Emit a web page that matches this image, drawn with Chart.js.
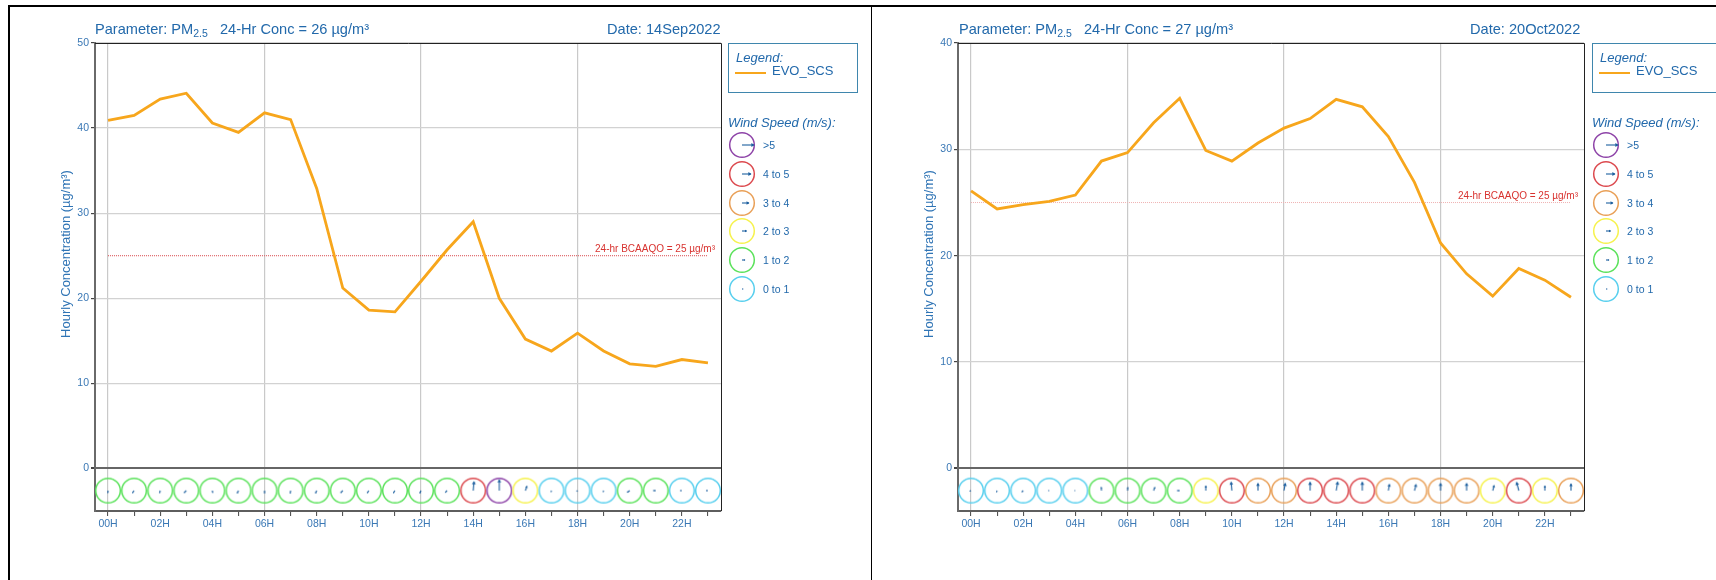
<!DOCTYPE html>
<html>
<head>
<meta charset="utf-8">
<title>PM2.5 hourly concentration</title>
<script src="https://cdn.jsdelivr.net/npm/chart.js@4/dist/chart.umd.min.js"></script>
<style>
	html,body{margin:0;padding:0;background:#fff;}
	body{width:1716px;height:580px;overflow:hidden;position:relative;font-family:"Liberation Sans",Arial,sans-serif;color:#2269ab;}
	canvas{position:absolute;top:0;}
	.abs{position:absolute;white-space:nowrap;}
	.rule{position:absolute;background:#000;}
	.head{font-size:14.6px;line-height:16px;top:21px;}
	.head sub{font-size:10.5px;line-height:0;vertical-align:-3px;}
	.box{position:absolute;top:43px;width:128px;height:48px;border:1.5px solid #3f86ad;}
	.small{font-size:10.5px;line-height:12px;}
</style>
</head>
<body>
<div class="rule" style="left:8px;top:5px;width:1708px;height:2px;"></div>
<div class="rule" style="left:8px;top:5px;width:2px;height:575px;"></div>
<div class="rule" style="left:871px;top:5px;width:1px;height:575px;"></div>
<canvas id="chart1" width="860" height="580" style="left:0"></canvas>
<canvas id="chart2" width="860" height="580" style="left:863px"></canvas>
<script>
const hours=['00H','01H','02H','03H','04H','05H','06H','07H','08H','09H','10H','11H','12H','13H','14H','15H','16H','17H','18H','19H','20H','21H','22H','23H'];

const conc1=[40.9,41.5,43.4,44.1,40.6,39.5,41.8,41.0,32.9,21.2,18.6,18.4,22.0,25.7,29.0,20.0,15.2,13.8,15.9,13.8,12.3,12.0,12.8,12.4];
const conc2=[26.1,24.4,24.8,25.1,25.7,28.9,29.7,32.5,34.8,29.9,28.9,30.6,32.0,32.9,34.7,34.0,31.2,26.9,21.2,18.3,16.2,18.8,17.7,16.1];

// wind speed m/s and heading of the arrow in degrees, 0 is up, clockwise
const speed1=[1.1,1.4,1.2,1.5,1.1,1.4,1.3,1.4,1.4,1.5,1.4,1.4,1.4,1.3,4.5,5.4,2.4,0.7,0.6,0.7,1.5,1.2,0.8,0.9];
const dir1=[185,215,195,225,170,205,180,190,205,225,215,215,205,225,5,0,20,200,230,200,235,270,270,270];
const speed2=[0.7,0.8,0.9,0.5,0.4,1.7,1.6,1.8,1.2,2.4,4.3,3.6,3.7,4.2,4.4,4.2,3.2,3.2,3.6,3.6,2.7,4.3,2.4,3.4];
const dir2=[250,200,225,270,270,355,5,20,270,0,355,0,10,0,10,0,10,15,0,0,15,345,0,0];

const yTicks1=[0,10,20,30,40,50];
const yTicks2=[0,10,20,30,40];
const windLabels=['>5','4 to 5','3 to 4','2 to 3','1 to 2','0 to 1'];
const windLegendSpeed=[6,4.5,3.5,2.3,1.5,0.6];
const limitValue=25;

function windColor(s){
	if(s>5) return '#8e44a8';
	if(s>4) return '#dc4a4f';
	if(s>3) return '#e9a058';
	if(s>2) return '#f6f24e';
	if(s>1) return '#5be25b';
	return '#58cfee';
}

function windIcon(s,dir){
	var c=document.createElement('canvas');
	c.width=30;
	c.height=30;
	var g=c.getContext('2d');
	g.translate(15,15);
	g.beginPath();
	g.arc(0,0,12.3,0,Math.PI*2);
	g.strokeStyle=windColor(s);
	g.lineWidth=1.5;
	g.stroke();
	g.rotate(dir*Math.PI/180);
	var len=s*2;
	g.strokeStyle='#1c5f9f';
	g.fillStyle='#1c5f9f';
	g.lineWidth=1.1;
	g.beginPath();
	g.moveTo(0,0);
	g.lineTo(0,-len);
	g.stroke();
	var head=Math.min(len*0.35,2.6);
	g.beginPath();
	g.moveTo(0,-len-0.5);
	g.lineTo(-head*0.75,-len+head);
	g.lineTo(head*0.75,-len+head);
	g.closePath();
	g.fill();
	return c;
}

// frame round the plot, the limit label and the y title
const framePlugin={
	id:'frame',
	afterDraw(chart,args,opts){
		var a=chart.chartArea, ctx=chart.ctx;
		ctx.save();
		ctx.strokeStyle='#222';
		ctx.lineWidth=1;
		ctx.beginPath();
		ctx.moveTo(a.left,a.top+0.5);
		ctx.lineTo(a.right+0.5,a.top+0.5);
		ctx.lineTo(a.right+0.5,a.bottom);
		ctx.stroke();
		ctx.fillStyle='#d8322f';
		ctx.font='10px "Liberation Sans"';
		ctx.textAlign='right';
		ctx.textBaseline='bottom';
		ctx.fillText('24-hr BCAAQO = 25 µg/m³',a.right-6,chart.scales.y.getPixelForValue(limitValue)-1);
		ctx.translate(66,254);
		ctx.rotate(-Math.PI/2);
		ctx.fillStyle='#2f74b5';
		ctx.font='13px "Liberation Sans"';
		ctx.textAlign='center';
		ctx.textBaseline='middle';
		ctx.fillText('Hourly Concentration (µg/m³)',0,0);
		ctx.restore();
	}
};

function makePanel(id,conc,speeds,dirs,yTicks,yMin,yMax,windLevel,limitColor){
	var ctx=document.getElementById(id).getContext('2d');
	return new Chart(ctx,{
		type:'line',
		data:{
			labels:hours,
			datasets:[{
				label:'EVO_SCS',
				data:conc,
				fill:false,
				borderColor:'#f7a61c',
				borderWidth:2.8,
				pointRadius:0,
				tension:0
			},
			{
				label:'BCAAQO',
				data:hours.map(function(){return limitValue;}),
				fill:false,
				borderColor:limitColor,
				borderWidth:1,
				borderDash:[1,1],
				pointRadius:0
			},
			{
				label:'Wind',
				data:hours.map(function(){return windLevel;}),
				showLine:false,
				clip:false,
				pointRadius:12,
				pointStyle:function(c){
					return windIcon(speeds[c.dataIndex],dirs[c.dataIndex]);
				}
			}]
		},
		plugins:[framePlugin],
		options:{
			responsive:false,
			devicePixelRatio:1,
			animation:false,
			events:[],
			layout:{padding:{left:58,top:43,right:139,bottom:25}},
			plugins:{legend:{display:false},tooltip:{enabled:false},title:{display:false}},
			scales:{
				x:{
					type:'category',
					offset:true,
					afterFit:function(s){s.height=44;},
					border:{color:'#5e5e5e',width:2},
					grid:{
						color:function(c){return c.index%6==0?'#c9c9c9':'rgba(0,0,0,0)';},
						lineWidth:1.2,
						tickColor:'#444',
						tickLength:5,
						tickWidth:1,
						drawTicks:true
					},
					ticks:{
						autoSkip:false,
						maxRotation:0,
						padding:2,
						color:'#3a78b5',
						font:{family:'"Liberation Sans"',size:10.5},
						callback:function(v,i){return i%2==0?hours[i]:'';}
					}
				},
				y:{
					min:yMin,
					max:yMax,
					afterFit:function(s){s.width=37;},
					afterBuildTicks:function(s){s.ticks=yTicks.map(function(v){return {value:v};});},
					border:{color:'#6a6a6a',width:2},
					grid:{
						color:function(c){return c.tick.value==0?'#666':'#d2d2d2';},
						lineWidth:function(c){return c.tick.value==0?2:1.2;},
						tickColor:'#444',
						tickLength:4
					},
					ticks:{
						padding:2,
						color:'#3a78b5',
						font:{family:'"Liberation Sans"',size:10.5}
					}
				}
			}
		}
	});
}

function addText(x,y,text,cls,style){
	var d=document.createElement('div');
	d.className='abs '+(cls||'');
	d.style.left=x+'px';
	d.style.top=y+'px';
	if(style) d.style.cssText+=style;
	d.innerHTML=text;
	document.body.appendChild(d);
}

function addSide(x0,concText,dateText,dateRight){
	addText(x0+95,21,'Parameter: PM<sub>2.5</sub>&nbsp;&nbsp; 24-Hr Conc = '+concText+' µg/m³','head');
	addText(dateRight-114,21,'Date: '+dateText,'head');

	var box=document.createElement('div');
	box.className='box';
	box.style.left=(x0+728)+'px';
	document.body.appendChild(box);
	addText(x0+736,50,'Legend:','',"font-size:13px;line-height:16px;font-style:italic;");
	var line=document.createElement('div');
	line.className='abs';
	line.style.cssText='left:'+(x0+735)+'px;top:71.5px;width:31px;height:2px;background:#f7a61c;';
	document.body.appendChild(line);
	addText(x0+772,63,'EVO_SCS','',"font-size:13px;line-height:16px;");

	addText(x0+728,115,'Wind Speed (m/s):','',"font-size:13px;line-height:16px;font-style:italic;");
	for(var i=0;i<windLabels.length;i++){
		var cy=145+i*28.8;
		var ic=windIcon(windLegendSpeed[i],90);
		ic.style.left=(x0+727)+'px';
		ic.style.top=(cy-15)+'px';
		document.body.appendChild(ic);
		addText(x0+763,cy-6,windLabels[i].replace('>','&gt;'),'small');
	}
}

makePanel('chart1',conc1,speed1,dir1,yTicks1,-5,50,-2.6,'#d8464a');
makePanel('chart2',conc2,speed2,dir2,yTicks2,-4,40,-2.08,'#eeb0b0');
addSide(0,'26','14Sep2022',721);
addSide(864,'27','20Oct2022',1584);
</script>
</body>
</html>
